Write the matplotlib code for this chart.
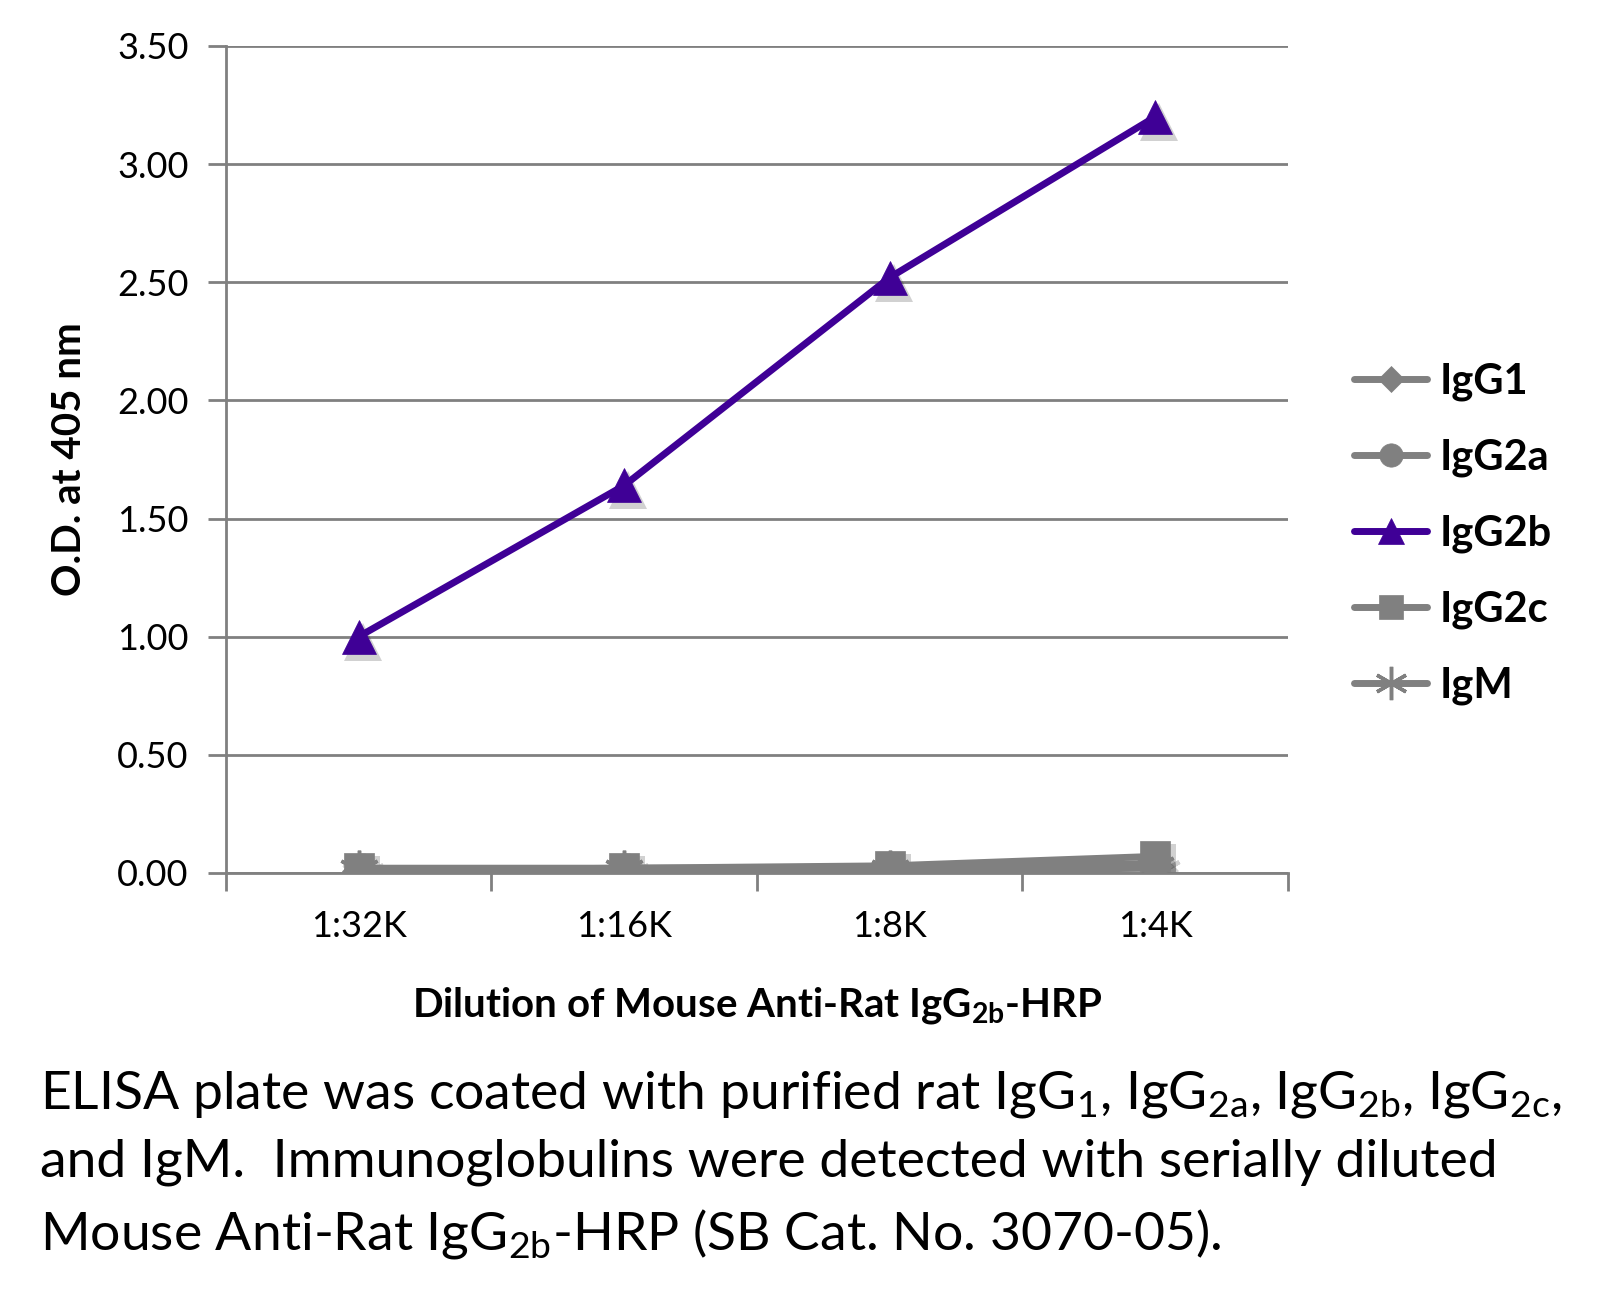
import matplotlib
matplotlib.use('Agg')
import matplotlib.pyplot as plt
from matplotlib.transforms import offset_copy

plt.rcParams['font.family'] = ['Lato', 'DejaVu Sans']
plt.rcParams['mathtext.fontset'] = 'custom'
plt.rcParams['mathtext.rm'] = 'Lato'
plt.rcParams['mathtext.it'] = 'Lato'
plt.rcParams['mathtext.bf'] = 'Lato:bold'

# data
dilutions = ['1:32K', '1:16K', '1:8K', '1:4K']
igg1 = [0.01, 0.01, 0.02, 0.03]
igg2a = [0.01, 0.02, 0.02, 0.04]
igg2b = [1.00, 1.64, 2.52, 3.20]
igg2c = [0.02, 0.02, 0.03, 0.07]
igm = [0.01, 0.01, 0.01, 0.02]
yticks = [0.0, 0.5, 1.0, 1.5, 2.0, 2.5, 3.0, 3.5]

gray = '#808080'
purple = '#3f0096'

fig = plt.figure(figsize=(15.97, 13.06), dpi=100)
ax = fig.add_axes([0.1415, 0.3316, 0.665, 0.6332])

x = list(range(len(dilutions)))
shadow_tr = offset_copy(ax.transData, fig=fig, x=4, y=-5, units='dots')

series = [
    ('IgG1', igg1, gray, 'D', 17),
    ('IgG2a', igg2a, gray, 'o', 21),
    ('IgG2b', igg2b, purple, '^', 24),
    ('IgG2c', igg2c, gray, 's', 21),
    ('IgM', igm, gray, (6, 2, 0), 30),
]
handles = {}
for name, vals, col, mk, ms in series:
    z = 5 if name == 'IgG2b' else 3
    star = name == 'IgM'
    # soft drop shadow under the markers
    ax.plot(x, vals, color='black', alpha=0.18, lw=0, marker=mk, markersize=ms + 3,
            markeredgewidth=3 if star else 0, transform=shadow_tr, zorder=z - 0.5)
    line, = ax.plot(x, vals, color=col, lw=5, marker=mk, markersize=ms,
                    markeredgewidth=2.5 if star else 0.5,
                    markeredgecolor=col, markerfacecolor=col,
                    solid_capstyle='round', label=name, zorder=z)
    handles[name] = line

ax.set_xlim(-0.5, 3.5)
ax.set_ylim(0, 3.5)
ax.set_yticks(yticks)
ax.set_yticklabels([f'{v:.2f}' for v in yticks], fontsize=26)
ax.set_xticks(x)
ax.set_xticklabels(dilutions, fontsize=26)
ax.set_xticks([-0.5, 0.5, 1.5, 2.5, 3.5], minor=True)
ax.tick_params(axis='x', which='major', length=0, pad=27)
ax.tick_params(axis='x', which='minor', length=13, width=2, color=gray)
ax.tick_params(axis='y', length=13, width=2, color=gray, pad=14)
ax.yaxis.grid(True, color=gray, lw=2)
ax.set_axisbelow(True)
for s in ['top', 'right']:
    ax.spines[s].set_visible(False)
ax.spines['left'].set_color(gray)
ax.spines['left'].set_linewidth(2)
ax.spines['bottom'].set_color(gray)
ax.spines['bottom'].set_linewidth(2)

ax.set_ylabel('O.D. at 405 nm', fontsize=29, fontweight='bold', labelpad=21)
ax.set_xlabel(r'Dilution of Mouse Anti-Rat IgG$_{\mathbf{2b}}$-HRP', fontsize=29,
              fontweight='bold', labelpad=30)

order = ['IgG1', 'IgG2a', 'IgG2b', 'IgG2c', 'IgM']
leg = fig.legend([handles[n] for n in order], order, loc='center left',
                 bbox_to_anchor=(0.848, 0.591), frameon=False, fontsize=30,
                 handlelength=1.75, handletextpad=0.3, labelspacing=0.9,
                 borderpad=0, borderaxespad=0, markerscale=0.8)
for t in leg.get_texts():
    t.set_fontweight('bold')

caption = ('ELISA plate was coated with purified rat IgG$_{1}$, IgG$_{2a}$, IgG$_{2b}$, IgG$_{2c}$,\n'
           'and IgM.  Immunoglobulins were detected with serially diluted\n'
           'Mouse Anti-Rat IgG$_{2b}$-HRP (SB Cat. No. 3070-05).')
fig.text(0.025, 0.108, caption, fontsize=38.5, ha='left', va='center', linespacing=1.5)

fig.savefig('out.png', dpi=100)
